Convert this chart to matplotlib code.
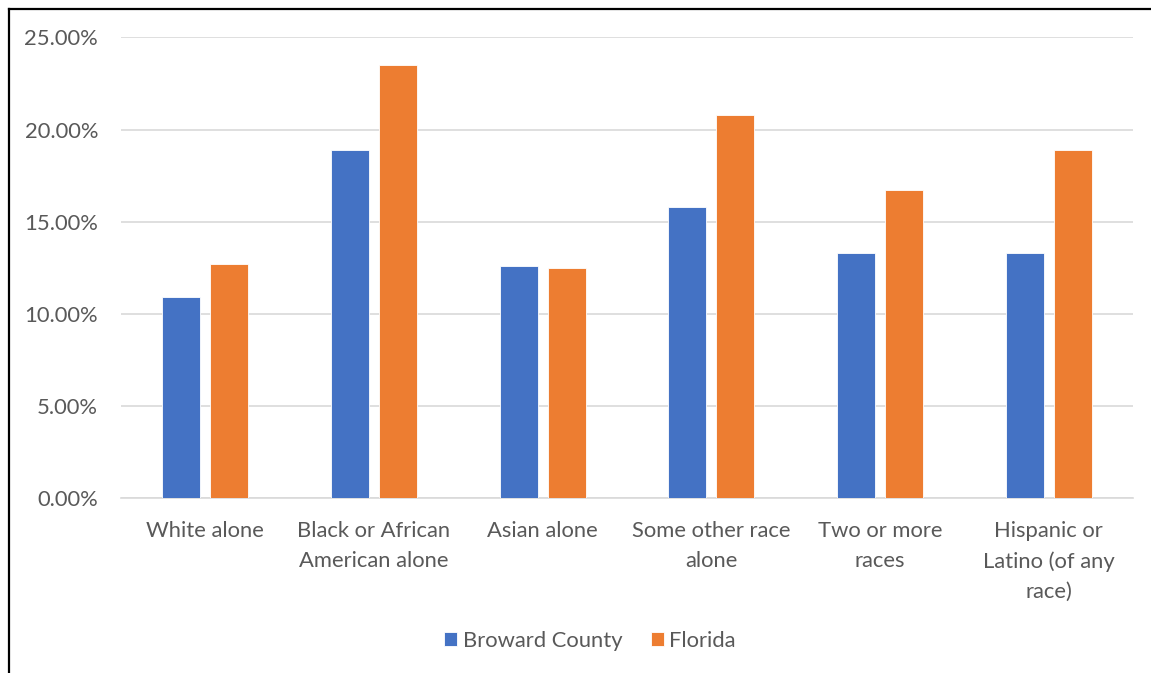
import matplotlib.pyplot as plt
import numpy as np
from matplotlib.lines import Line2D
from matplotlib.ticker import PercentFormatter

categories = ["White alone", "Black or African\nAmerican alone", "Asian alone",
              "Some other race\nalone", "Two or more\nraces", "Hispanic or\nLatino (of any\nrace)"]
broward = [10.9, 18.9, 12.6, 15.8, 13.3, 13.3]
florida = [12.7, 23.5, 12.5, 20.8, 16.7, 18.9]
series_names = ["Broward County", "Florida"]

def draw_chart():
    plt.rcParams['font.family'] = ['Lato', 'DejaVu Sans']
    fig = plt.figure(figsize=(11.51, 6.73), dpi=100)
    ax = fig.add_axes([0.1051, 0.2593, 0.8793, 0.6853])

    text_col = '#595959'
    fs = 15.8
    x = np.arange(len(categories))
    w = 0.225
    off = 0.142
    ax.bar(x - off, broward, w, color='#4472C4', edgecolor='white', linewidth=0.6,
           label=series_names[0], zorder=3)
    ax.bar(x + off, florida, w, color='#ED7D31', edgecolor='white', linewidth=0.6,
           label=series_names[1], zorder=3)

    ax.set_xlim(-0.5, len(categories) - 0.5)
    ax.set_ylim(0, 25)
    ax.set_yticks(np.arange(0, 26, 5))
    ax.yaxis.set_major_formatter(PercentFormatter(decimals=2))
    ax.yaxis.grid(True, color='#D9D9D9', linewidth=1.2, zorder=0)
    ax.set_axisbelow(True)
    for s in ['top', 'right', 'left']:
        ax.spines[s].set_visible(False)
    ax.spines['bottom'].set_color('#D9D9D9')
    ax.spines['bottom'].set_linewidth(1.2)

    ax.set_xticks(x)
    ax.set_xticklabels(categories, linespacing=1.6)
    ax.tick_params(axis='both', length=0, labelsize=fs, labelcolor=text_col)
    ax.tick_params(axis='x', pad=16.5)
    ax.tick_params(axis='y', pad=16.5)

    # legend under the chart
    fig.legend(loc='center', bbox_to_anchor=(590 / 1151, 1 - 641 / 673), ncol=2,
               frameon=False, fontsize=fs, labelcolor=text_col,
               handlelength=0.6, handleheight=0.6, handletextpad=0.25, columnspacing=1.3)

    # chart frame (left and top edges only visible)
    fig.add_artist(Line2D([8.5 / 1151, 8.5 / 1151], [0, 1 - 8.5 / 673],
                          transform=fig.transFigure, color='black', lw=1.6))
    fig.add_artist(Line2D([8.5 / 1151, 1], [1 - 8.5 / 673, 1 - 8.5 / 673],
                          transform=fig.transFigure, color='black', lw=1.6))

    fig.savefig('out.png', dpi=100)

if __name__ == "__main__":
    draw_chart()
